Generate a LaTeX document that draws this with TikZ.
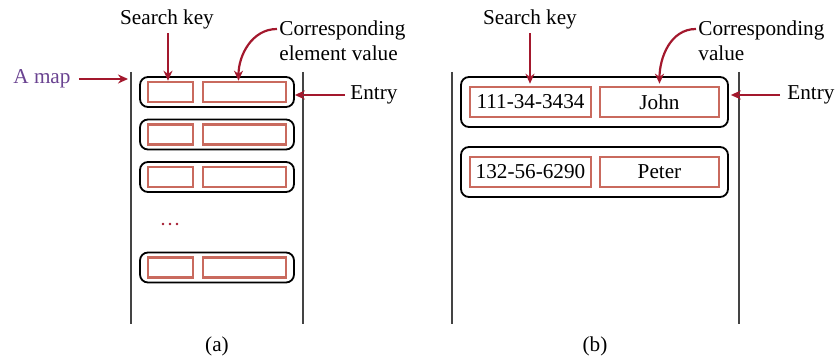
\documentclass[tikz,border=0pt]{standalone}
\usepackage{fontspec}
\setmainfont{Liberation Serif}
\usetikzlibrary{arrows.meta}
\definecolor{boxred}{HTML}{C96A5E}
\definecolor{arrred}{HTML}{A3182D}
\definecolor{mappurple}{HTML}{6A4391}
\definecolor{linegray}{HTML}{444444}
\tikzset{
  lbl/.style={font=\rmfamily\fontsize{10.6}{12.6}\selectfont, inner sep=0pt},
  entrybox/.style={draw=black, line width=0.9pt, rounded corners=4pt, inner sep=0pt},
  fieldbox/.style={draw=boxred, line width=1.3pt, inner sep=0pt, font=\rmfamily\fontsize{10.6}{12.6}\selectfont},
  pointer/.style={draw=arrred, line width=1.1pt, -{Stealth[length=5pt,width=4.5pt]}},
  wall/.style={draw=linegray, line width=0.6pt},
}
\begin{document}
\begin{tikzpicture}[x=0.5pt,y=-0.5pt]
\useasboundingbox (0,0) rectangle (836,356);

% ---------- panel (a) ----------
\draw[wall] (131,72) -- (131,324);
\draw[wall] (303,72) -- (303,324);

\foreach \n/\y in {1/92,2/134.5,3/177,4/267.5}{
  \node[entrybox, minimum width=77pt, minimum height=15pt] (ae\n) at (217,\y) {};
  \node[fieldbox, minimum width=22.5pt, minimum height=10pt] (ak\n) at (170.5,\y) {};
  \node[fieldbox, minimum width=41.5pt, minimum height=10pt] (av\n) at (244.5,\y) {};
}
\foreach \x in {163,170,177}{
  \fill[arrred] (\x,224) circle (0.7pt);
}

\node[lbl] (ask) at (167,19) {Search key};
\node[lbl, align=left, anchor=west] (acv) at (279,40.5) {Corresponding\\element value};
\node[lbl, text=mappurple, anchor=west] (amap) at (13,79) {A map};
\node[lbl, anchor=west] (aent) at (350,95) {Entry};
\coordinate (amapend) at (128,79);

\draw[pointer] ([xshift=0.5pt,yshift=-2pt]ask.south) coordinate (askst) -- (ak1.north -| askst);
\draw[pointer] ([xshift=-1pt,yshift=5.75pt]acv.west) to[out=180,in=90] ([xshift=-3pt]av1.north);
\draw[pointer] ([xshift=4pt]amap.east) -- (amapend);
\draw[pointer] ([xshift=-2.5pt]aent.west) coordinate (aentst) -- (aentst -| ae1.east);

\node[lbl] (capa) at (217,346) {(a)};

% ---------- panel (b) ----------
\draw[wall] (452,72) -- (452,324);
\draw[wall] (739,72) -- (739,324);

\node[entrybox, minimum width=133.5pt, minimum height=25pt] (be1) at (594.5,102) {};
\node[fieldbox, minimum width=60.5pt, minimum height=15pt] (bk1) at (530.5,102) {111-34-3434};
\node[fieldbox, minimum width=59.5pt, minimum height=15pt] (bv1) at (659.5,102) {John};
\node[entrybox, minimum width=133.5pt, minimum height=25pt] (be2) at (594.5,172) {};
\node[fieldbox, minimum width=60.5pt, minimum height=15pt] (bk2) at (530.5,172) {132-56-6290};
\node[fieldbox, minimum width=59.5pt, minimum height=15pt] (bv2) at (659.5,172) {Peter};

\node[lbl] (bsk) at (530,19) {Search key};
\node[lbl, align=left, anchor=west] (bcv) at (698,40.5) {Corresponding\\value};
\node[lbl, anchor=west] (bent) at (787,95) {Entry};

\draw[pointer] ([yshift=-2pt]bsk.south) coordinate (bskst) -- ([yshift=1pt]bk1.north -| bskst);
\draw[pointer] ([xshift=-1pt,yshift=5.75pt]bcv.west) to[out=180,in=90] ([yshift=1pt]bv1.north);
\draw[pointer] ([xshift=-3.5pt]bent.west) coordinate (bentst) -- ([xshift=1pt]bentst -| be1.east);

\node[lbl] (capb) at (595,346) {(b)};
\end{tikzpicture}
\end{document}
